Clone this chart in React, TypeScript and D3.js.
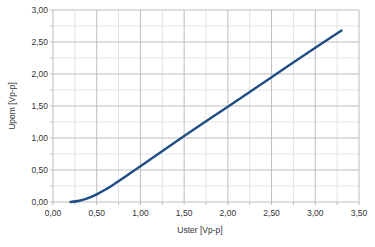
import React from "react";
import * as d3 from "d3";

const xValues = [0.2, 0.3, 0.4, 0.5, 0.6, 0.7, 0.8, 0.9, 1.0, 1.5, 2.0, 2.5, 3.0, 3.3];
const yValues = [0.0, 0.02, 0.06, 0.12, 0.195, 0.28, 0.37, 0.465, 0.56, 1.03, 1.49, 1.95, 2.41, 2.68];
const xTicks = [0, 0.5, 1, 1.5, 2, 2.5, 3, 3.5];
const yTicks = [0, 0.5, 1, 1.5, 2, 2.5, 3];
const minorTicks = [0.25, 0.75, 1.25, 1.75, 2.25, 2.75, 3.25];
const xTitle = "Uster [Vp-p]";
const yTitle = "Upom [Vp-p]";

export default function App() {
  const W = 375, H = 247;
  const left = 53, right = 359, top = 10, bottom = 202;
  const x = d3.scaleLinear().domain([0, 3.5]).range([left, right]);
  const y = d3.scaleLinear().domain([0, 3]).range([bottom, top]);
  const fmt = (v: number) => v.toFixed(2).replace(".", ",");
  const pts: [number, number][] = xValues.map((v, i) => [v, yValues[i]]);
  const line = d3.line<[number, number]>().x(d => x(d[0])).y(d => y(d[1])).curve(d3.curveCatmullRom);
  const font = "'Liberation Sans', Arial, sans-serif";
  return (
    <svg width={W} height={H} style={{ position: "absolute", left: 0, top: 0, background: "#fff" }}>
      <rect x={0} y={0} width={W} height={H} fill="#fff" />
      {minorTicks.filter(v => v <= 3.5).map(v => (
        <line key={"mx" + v} x1={x(v)} x2={x(v)} y1={top} y2={bottom} stroke="#e3e3e3" strokeWidth={1} />
      ))}
      {minorTicks.filter(v => v <= 3).map(v => (
        <line key={"my" + v} x1={left} x2={right} y1={y(v)} y2={y(v)} stroke="#e3e3e3" strokeWidth={1} />
      ))}
      {xTicks.map(v => (
        <line key={"gx" + v} x1={x(v)} x2={x(v)} y1={top} y2={bottom} stroke="#bdbdbd" strokeWidth={1} />
      ))}
      {yTicks.map(v => (
        <line key={"gy" + v} x1={left} x2={right} y1={y(v)} y2={y(v)} stroke="#bdbdbd" strokeWidth={1} />
      ))}
      {[...xTicks, ...minorTicks].map(v => (
        <line key={"tx" + v} x1={x(v)} x2={x(v)} y1={bottom} y2={bottom + 3} stroke="#bdbdbd" strokeWidth={1} />
      ))}
      {[...yTicks, ...minorTicks.filter(v => v <= 3)].map(v => (
        <line key={"ty" + v} x1={left - 3} x2={left} y1={y(v)} y2={y(v)} stroke="#bdbdbd" strokeWidth={1} />
      ))}
      <path d={line(pts) || ""} fill="none" stroke="#1f4e87" strokeWidth={2.4} strokeLinecap="round" />
      {xTicks.map(v => (
        <text key={"lx" + v} x={x(v)} y={216} textAnchor="middle" fontSize={8.5} fill="#333" fontFamily={font}>{fmt(v)}</text>
      ))}
      {yTicks.map(v => (
        <text key={"ly" + v} x={48} y={y(v) + 3} textAnchor="end" fontSize={8.5} fill="#333" fontFamily={font}>{fmt(v)}</text>
      ))}
      <text x={200} y={233} textAnchor="middle" fontSize={8.5} fill="#333" fontFamily={font}>{xTitle}</text>
      <text transform={`translate(15,106) rotate(-90)`} textAnchor="middle" fontSize={8.5} fill="#333" fontFamily={font}>{yTitle}</text>
    </svg>
  );
}
